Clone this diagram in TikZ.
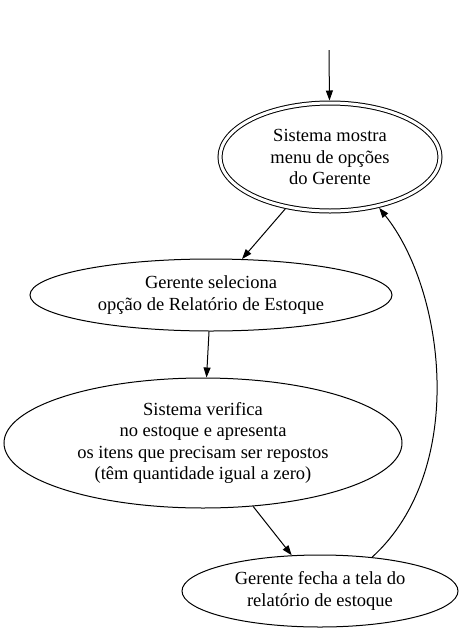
\documentclass[tikz,border=0pt]{standalone}
\usepackage{fontspec}
\setmainfont{Liberation Serif}
\usetikzlibrary{shapes.geometric,arrows.meta}

\begin{document}
\begin{tikzpicture}[x=1pt,y=-1pt,line width=1pt]
    % `state' is used for every step of the flow (ellipses).
    % `first' is the double ellipse of the initial step.
    % `flow' is used for the arrows between steps.
    \tikzstyle{state} = [draw,ellipse,inner sep=0pt,align=center,
                         font=\fontsize{18.5}{21.5}\selectfont]
    \tikzstyle{first} = [state,double,double distance=3pt,outer sep=2.5pt]
    \tikzstyle{flow} = [-{Triangle[length=10pt,width=7pt]}]
    %
    \useasboundingbox (0,0) rectangle (463,633);
    \coordinate (start) at (329,50);
    \node[first,minimum width=220pt,minimum height=108pt] (menu) at (330,157)
      {Sistema mostra\\menu de opções\\do Gerente};
    \node[state,minimum width=362pt,minimum height=72pt] (sel) at (211,295)
      {Gerente seleciona\\opção de Relatório de Estoque};
    \node[state,minimum width=398pt,minimum height=130pt] (ver) at (203,443)
      {Sistema verifica\\no estoque e apresenta\\os itens que precisam ser repostos\\(têm quantidade igual a zero)};
    \node[state,minimum width=276pt,minimum height=72pt] (fecha) at (320,591)
      {Gerente fecha a tela do\\relatório de estoque};
    %
    \draw[flow] (start) -- (menu);
    \draw[flow] (menu) -- (sel);
    \draw[flow] (sel) -- (ver);
    \draw[flow] (ver) -- (fecha);
    % Draw the loop back to the menu.
    \draw[flow] (fecha.33) .. controls (468,470) and (445,290) .. (menu.-46);
\end{tikzpicture}
\end{document}
